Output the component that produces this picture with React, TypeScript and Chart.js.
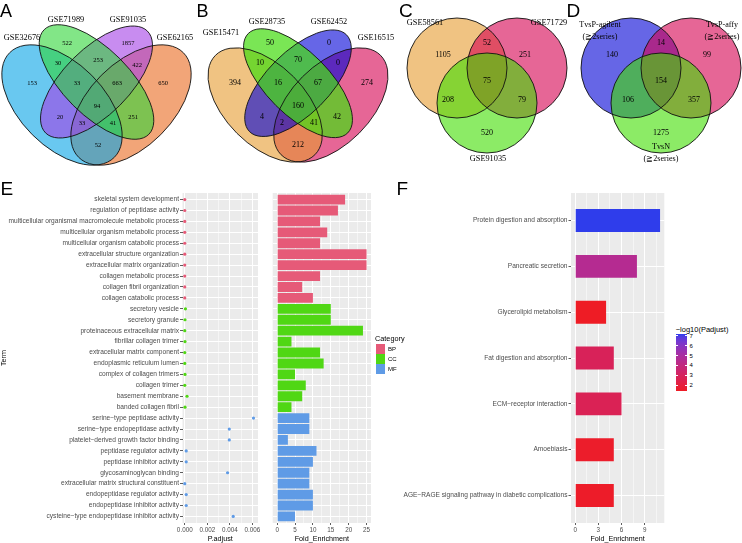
import React, { useEffect, useRef } from 'react';
import { Chart, registerables } from 'chart.js';

Chart.register(...registerables);

const SANS = '"Liberation Sans", Arial, Helvetica, sans-serif';
const SERIF = '"Liberation Serif", "Times New Roman", "DejaVu Serif", serif';

// ---------------- Venn data ----------------
const vennASets = ['GSE32676', 'GSE71989', 'GSE91035', 'GSE62165'];
const vennACounts = [153, 522, 1857, 650, 30, 253, 422, 33, 663, 20, 251, 33, 41, 94, 52];
const vennBSets = ['GSE15471', 'GSE28735', 'GSE62452', 'GSE16515'];
const vennBCounts = [394, 50, 0, 274, 10, 70, 0, 16, 67, 4, 42, 2, 41, 160, 212];
const vennCSets = ['GSE58561', 'GSE71729', 'GSE91035'];
const vennCCounts = [1105, 251, 520, 52, 208, 79, 75];
const vennDSets = ['TvsP-agilent\n(\u22672series)', 'TvsP-affy\n(\u22672series)', 'TvsN\n(\u22672series)'];
const vennDCounts = [140, 99, 1275, 14, 106, 357, 154];

// ---------------- GO enrichment data ----------------
const goTerms = [
  'skeletal system development',
  'regulation of peptidase activity',
  'multicellular organismal macromolecule metabolic process',
  'multicellular organism metabolic process',
  'multicellular organism catabolic process',
  'extracellular structure organization',
  'extracellular matrix organization',
  'collagen metabolic process',
  'collagen fibril organization',
  'collagen catabolic process',
  'secretory vesicle',
  'secretory granule',
  'proteinaceous extracellular matrix',
  'fibrillar collagen trimer',
  'extracellular matrix component',
  'endoplasmic reticulum lumen',
  'complex of collagen trimers',
  'collagen trimer',
  'basement membrane',
  'banded collagen fibril',
  'serine\u2212type peptidase activity',
  'serine\u2212type endopeptidase activity',
  'platelet\u2212derived growth factor binding',
  'peptidase regulator activity',
  'peptidase inhibitor activity',
  'glycosaminoglycan binding',
  'extracellular matrix structural constituent',
  'endopeptidase regulator activity',
  'endopeptidase inhibitor activity',
  'cysteine\u2212type endopeptidase inhibitor activity',
];
const goCategory = [
  'BP', 'BP', 'BP', 'BP', 'BP', 'BP', 'BP', 'BP', 'BP', 'BP',
  'CC', 'CC', 'CC', 'CC', 'CC', 'CC', 'CC', 'CC', 'CC', 'CC',
  'MF', 'MF', 'MF', 'MF', 'MF', 'MF', 'MF', 'MF', 'MF', 'MF',
];
const goPadjust = [
  0, 0, 0, 0, 0, 0, 0, 0, 0, 0,
  0.00006, 0.00002, 0, 0.00002, 0, 0, 0.00002, 0, 0.0002, 0.00002,
  0.0061, 0.00395, 0.00395, 0.00013, 0.00013, 0.0038, 0, 0.00013, 0.00013, 0.0043,
];
const goFold = [
  19, 17, 12, 14, 12, 25, 25, 12, 7, 10,
  15, 15, 24, 4, 12, 13, 5, 8, 7, 4,
  9, 9, 3, 11, 10, 9, 9, 10, 10, 5,
];
const categories = ['BP', 'CC', 'MF'];
const pTicks = [0, 0.001, 0.002, 0.003, 0.004, 0.005, 0.006];
const pTickLabels = ['0.000', '', '0.002', '', '0.004', '', '0.006'];
const foldTicks = [0, 2.5, 5, 7.5, 10, 12.5, 15, 17.5, 20, 22.5, 25];
const foldTickLabels = ['0', '', '5', '', '10', '', '15', '', '20', '', '25'];

// ---------------- KEGG data ----------------
const keggTerms = [
  'Protein digestion and absorption',
  'Pancreatic secretion',
  'Glycerolipid metabolism',
  'Fat digestion and absorption',
  'ECM\u2212receptor interaction',
  'Amoebiasis',
  'AGE\u2212RAGE signaling pathway in diabetic complications',
];
const keggFold = [11, 8, 4, 5, 6, 5, 5];
const keggLogP = [7.2, 4.6, 1.46, 2.9, 2.8, 1.6, 1.55];
const keggTicks = [0, 1.5, 3, 4.5, 6, 7.5, 9, 10.5];
const keggTickLabels = ['0', '', '3', '', '6', '', '9', ''];
const colorbarBreaks = [7, 6, 5, 4, 3, 2];

// ---------------- styles / layout ----------------
const catColors: Record<string, string> = { BP: '#E65A78', CC: '#50D714', MF: '#5F9BE6' };
const gradLow = [238, 28, 37];
const gradHigh = [47, 61, 235];

type Ell = { cx: number; cy: number; rx: number; ry: number; rot: number; fill: string };
type Venn = {
  shapes: Ell[]; order: number[]; counts: number[]; countPos: number[][]; countSize: number;
  sets: string[]; setPos: number[][]; setSize: number;
};

const VENNS: Venn[] = [
  {
    shapes: [
      { cx: 62, cy: 105, rx: 74, ry: 42, rot: 45, fill: 'rgba(5,163,230,0.6)' },
      { cx: 96.5, cy: 82, rx: 74, ry: 33, rot: 45, fill: 'rgba(47,213,55,0.6)' },
      { cx: 96.5, cy: 82, rx: 72, ry: 33, rot: -45, fill: 'rgba(163,63,230,0.6)' },
      { cx: 131, cy: 105, rx: 74, ry: 42, rot: -45, fill: 'rgba(233,105,30,0.6)' },
    ],
    order: [3, 0, 2, 1],
    counts: vennACounts,
    countPos: [[32, 83], [67, 43], [128, 43], [163, 83], [58, 63], [98, 60], [137, 65], [77, 83], [117, 83], [60, 117], [133, 117], [82, 123], [113, 123], [97, 106], [98, 145]],
    countSize: 6.5,
    sets: vennASets,
    setPos: [[22, 38], [66, 20], [128, 20], [175, 38]],
    setSize: 8.3,
  },
  {
    shapes: [
      { cx: 265.2, cy: 105, rx: 70.3, ry: 40, rot: 45, fill: 'rgba(230,155,47,0.6)' },
      { cx: 298, cy: 83.2, rx: 70.3, ry: 31.4, rot: 45, fill: 'rgba(70,220,20,0.72)' },
      { cx: 298, cy: 83.2, rx: 68.5, ry: 31.4, rot: -45, fill: 'rgba(0,0,215,0.6)' },
      { cx: 330.8, cy: 105, rx: 70.3, ry: 40, rot: -45, fill: 'rgba(213,0,80,0.6)' },
    ],
    order: [3, 0, 2, 1],
    counts: vennBCounts,
    countPos: [[235, 83], [270, 43], [329, 43], [367, 83], [260, 63], [298, 60], [338, 63], [278, 83], [318, 83], [262, 117], [337, 117], [282, 123], [314, 123], [298, 106], [298, 145]],
    countSize: 8,
    sets: vennBSets,
    setPos: [[221, 33], [267, 22], [329, 22], [376, 38]],
    setSize: 8.3,
  },
  {
    shapes: [
      { cx: 457, cy: 68, rx: 50, ry: 50, rot: 0, fill: 'rgba(230,155,47,0.6)' },
      { cx: 517, cy: 68, rx: 50, ry: 50, rot: 0, fill: 'rgba(213,0,80,0.6)' },
      { cx: 487, cy: 103, rx: 50, ry: 50, rot: 0, fill: 'rgba(63,222,0,0.6)' },
    ],
    order: [0, 1, 2],
    counts: vennCCounts,
    countPos: [[443, 55], [525, 55], [487, 133], [487, 43], [448, 100], [522, 100], [487, 81]],
    countSize: 8,
    sets: vennCSets,
    setPos: [[425, 23], [549, 23], [488, 159]],
    setSize: 8.3,
  },
  {
    shapes: [
      { cx: 631, cy: 68, rx: 50, ry: 50, rot: 0, fill: 'rgba(0,0,213,0.6)' },
      { cx: 691, cy: 68, rx: 50, ry: 50, rot: 0, fill: 'rgba(213,0,80,0.6)' },
      { cx: 661, cy: 103, rx: 50, ry: 50, rot: 0, fill: 'rgba(63,222,0,0.6)' },
    ],
    order: [0, 1, 2],
    counts: vennDCounts,
    countPos: [[612, 55], [707, 55], [661, 133], [661, 43], [628, 100], [694, 100], [661, 81]],
    countSize: 8,
    sets: vennDSets,
    setPos: [[600, 25], [722, 25], [661, 147]],
    setSize: 8.1,
  },
];

// ---------------- colour helpers (Lab interpolation like ggplot) ----------------
function toLin(c: number) { c /= 255; return c <= 0.04045 ? c / 12.92 : Math.pow((c + 0.055) / 1.055, 2.4); }
function fromLin(c: number) {
  const v = c <= 0.0031308 ? 12.92 * c : 1.055 * Math.pow(c, 1 / 2.4) - 0.055;
  return Math.round(Math.max(0, Math.min(1, v)) * 255);
}
function rgbToLab(rgb: number[]) {
  const [R, G, B] = rgb.map(toLin);
  const X = (0.4124 * R + 0.3576 * G + 0.1805 * B) / 0.95047;
  const Y = 0.2126 * R + 0.7152 * G + 0.0722 * B;
  const Z = (0.0193 * R + 0.1192 * G + 0.9505 * B) / 1.08883;
  const f = (t: number) => (t > 0.008856 ? Math.cbrt(t) : 7.787 * t + 16 / 116);
  const fx = f(X), fy = f(Y), fz = f(Z);
  return [116 * fy - 16, 500 * (fx - fy), 200 * (fy - fz)];
}
function labToRgb(lab: number[]) {
  const [L, a, b] = lab;
  const fy = (L + 16) / 116, fx = fy + a / 500, fz = fy - b / 200;
  const inv = (t: number) => (t * t * t > 0.008856 ? t * t * t : (t - 16 / 116) / 7.787);
  const X = inv(fx) * 0.95047, Y = inv(fy), Z = inv(fz) * 1.08883;
  const R = 3.2406 * X - 1.5372 * Y - 0.4986 * Z;
  const G = -0.9689 * X + 1.8758 * Y + 0.0415 * Z;
  const B = 0.0557 * X - 0.204 * Y + 1.057 * Z;
  return [fromLin(R), fromLin(G), fromLin(B)];
}
const labLow = rgbToLab(gradLow);
const labHigh = rgbToLab(gradHigh);
function gradColor(t: number) {
  const lab = labLow.map((v, i) => v + (labHigh[i] - v) * t);
  const [r, g, b] = labToRgb(lab);
  return `rgb(${r},${g},${b})`;
}
const logMin = Math.min(...keggLogP);
const logMax = Math.max(...keggLogP);

// ---------------- plugins ----------------
const panelBg = {
  id: 'panelBg',
  beforeDraw(chart: any) {
    const { ctx, chartArea: a } = chart;
    ctx.save();
    ctx.fillStyle = '#EBEBEB';
    ctx.fillRect(a.left, a.top, a.right - a.left, a.bottom - a.top);
    ctx.restore();
  },
};

const vennPlugin = {
  id: 'vennPlugin',
  afterDraw(chart: any) {
    const ctx = chart.ctx;
    const xs = chart.scales.x, ys = chart.scales.y;
    const px = (v: number) => xs.getPixelForValue(v);
    const py = (v: number) => ys.getPixelForValue(v);
    const k = px(1) - px(0);
    for (const v of VENNS) {
      ctx.save();
      const path = (s: Ell) => {
        ctx.beginPath();
        ctx.ellipse(px(s.cx), py(s.cy), s.rx * k, s.ry * k, (s.rot * Math.PI) / 180, 0, Math.PI * 2);
      };
      for (const i of v.order) {
        path(v.shapes[i]);
        ctx.fillStyle = v.shapes[i].fill;
        ctx.fill();
      }
      ctx.lineWidth = 0.9;
      ctx.strokeStyle = '#111111';
      for (const s of v.shapes) { path(s); ctx.stroke(); }
      ctx.fillStyle = '#000000';
      ctx.textAlign = 'center';
      ctx.textBaseline = 'middle';
      ctx.font = `${v.countSize}px ${SERIF}`;
      v.counts.forEach((c, i) => ctx.fillText(String(c), px(v.countPos[i][0]), py(v.countPos[i][1])));
      ctx.font = `${v.setSize}px ${SERIF}`;
      v.sets.forEach((name, i) => {
        name.split('\n').forEach((line, j) => {
          ctx.fillText(line, px(v.setPos[i][0]), py(v.setPos[i][1] + j * 12));
        });
      });
      ctx.restore();
    }
  },
};

// ---------------- axis builders ----------------
function valueAxis(min: number, max: number, ticks: number[], labels: string[], title: string) {
  const isMajor = (v: number) => {
    const i = ticks.indexOf(v);
    return i >= 0 && labels[i] !== '';
  };
  return {
    type: 'linear',
    min,
    max,
    offset: false,
    afterBuildTicks: (s: any) => { s.ticks = ticks.map((value) => ({ value })); },
    afterFit: (s: any) => { s.height = 20; },
    ticks: {
      autoSkip: false, maxRotation: 0, minRotation: 0, padding: 1, color: '#4D4D4D',
      font: { family: SANS, size: 6.3 },
      callback: (_v: any, i: number) => labels[i] ?? '',
    },
    grid: {
      offset: false,
      color: '#FFFFFF',
      lineWidth: (c: any) => (c.tick && isMajor(c.tick.value) ? 1 : 0.5),
      drawTicks: true,
      tickLength: 2,
      tickWidth: 0.8,
      tickColor: (c: any) => (c.tick && isMajor(c.tick.value) ? '#333333' : 'rgba(0,0,0,0)'),
    },
    border: { display: false },
    title: { display: true, text: title, color: '#000000', font: { family: SANS, size: 7.2 }, padding: 0 },
  };
}

function indexAxis(labels: string[], width: number, showLabels: boolean, title?: string) {
  return {
    type: 'linear',
    min: 0.4,
    max: labels.length + 0.6,
    reverse: true,
    offset: false,
    afterBuildTicks: (s: any) => { s.ticks = labels.map((_, i) => ({ value: i + 1 })); },
    afterFit: (s: any) => { s.width = width; },
    ticks: {
      display: showLabels, autoSkip: false, padding: 1, color: '#4D4D4D',
      font: { family: SANS, size: 6.6 },
      callback: (_v: any, i: number) => labels[i],
    },
    grid: { offset: false, color: '#FFFFFF', lineWidth: 1, drawTicks: showLabels, tickLength: 2.5, tickWidth: 0.8, tickColor: '#333333' },
    border: { display: false },
    title: { display: !!title, text: title || '', color: '#000000', font: { family: SANS, size: 7.2 }, padding: 0 },
  };
}

const baseOptions = {
  animation: false,
  responsive: false,
  devicePixelRatio: 1,
  events: [],
  plugins: { legend: { display: false }, tooltip: { enabled: false } },
};

// ---------------- chart configs ----------------
function vennConfig(): any {
  return {
    type: 'scatter',
    data: { datasets: [] },
    options: {
      ...baseOptions,
      layout: { padding: 0 },
      scales: {
        x: { type: 'linear', min: 0, max: 742, display: false },
        y: { type: 'linear', min: 0, max: 172, reverse: true, display: false },
      },
    },
    plugins: [vennPlugin],
  };
}

function dotConfig(): any {
  return {
    type: 'scatter',
    data: {
      datasets: categories.map((cat) => ({
        label: cat,
        data: goTerms
          .map((_, i) => ({ x: goPadjust[i], y: i + 1, c: goCategory[i] }))
          .filter((d) => d.c === cat),
        backgroundColor: catColors[cat],
        borderWidth: 0,
        pointRadius: 1.6,
      })),
    },
    options: {
      ...baseOptions,
      layout: { padding: { top: 8, right: 3.7, left: 0, bottom: 0 } },
      scales: {
        x: valueAxis(-0.0002, 0.0065, pTicks, pTickLabels, 'P.adjust'),
        y: indexAxis(goTerms, 182.5, true, 'Term'),
      },
    },
    plugins: [panelBg],
  };
}

function goBarConfig(): any {
  return {
    type: 'bar',
    data: {
      datasets: [{
        data: goFold.map((v, i) => ({ x: v, y: i + 1 })),
        backgroundColor: goCategory.map((c) => catColors[c]),
        borderWidth: 0,
        barPercentage: 0.9,
        categoryPercentage: 1,
      }],
    },
    options: {
      ...baseOptions,
      indexAxis: 'y',
      layout: { padding: { top: 8, right: 4, left: 10.7, bottom: 0 } },
      scales: {
        x: valueAxis(-1.25, 26.25, foldTicks, foldTickLabels, 'Fold_Enrichment'),
        y: indexAxis(goTerms, 0, false),
      },
    },
    plugins: [panelBg],
  };
}

function keggConfig(): any {
  return {
    type: 'bar',
    data: {
      datasets: [{
        data: keggFold.map((v, i) => ({ x: v, y: i + 1 })),
        backgroundColor: keggLogP.map((p) => gradColor((p - logMin) / (logMax - logMin))),
        borderWidth: 0,
        barPercentage: 0.5,
        categoryPercentage: 1,
      }],
    },
    options: {
      ...baseOptions,
      indexAxis: 'y',
      layout: { padding: { top: 8, right: 5.7, left: 0, bottom: 0 } },
      scales: {
        x: valueAxis(-0.55, 11.55, keggTicks, keggTickLabels, 'Fold_Enrichment'),
        y: indexAxis(keggTerms, 186, true),
      },
    },
    plugins: [panelBg],
  };
}

// ---------------- components ----------------
function ChartCanvas(props: { left: number; top: number; width: number; height: number; make: () => any }) {
  const ref = useRef<HTMLCanvasElement>(null);
  useEffect(() => {
    const chart = new Chart(ref.current as HTMLCanvasElement, props.make());
    return () => chart.destroy();
  }, []);
  return (
    <canvas
      ref={ref}
      width={props.width}
      height={props.height}
      style={{ position: 'absolute', left: props.left, top: props.top, width: props.width, height: props.height }}
    />
  );
}

function Txt(props: { x: number; cy: number; size: number; text: string; color?: string }) {
  return (
    <span
      style={{
        position: 'absolute', left: props.x, top: props.cy - props.size * 0.5,
        fontSize: props.size, lineHeight: `${props.size}px`, fontFamily: SANS,
        color: props.color || '#000', whiteSpace: 'nowrap',
      }}
    >
      {props.text}
    </span>
  );
}

const panelLetters = [
  { t: 'A', x: 0, base: 17, size: 18 },
  { t: 'B', x: 196.5, base: 17, size: 18 },
  { t: 'C', x: 399, base: 17, size: 19 },
  { t: 'D', x: 566.5, base: 17, size: 19 },
  { t: 'E', x: 0.5, base: 195, size: 19 },
  { t: 'F', x: 396.5, base: 195, size: 19 },
];

export default function App() {
  useEffect(() => {
    document.body.style.margin = '0';
  }, []);
  const barTop = 333.7, barH = 57, barLeft = 675.7, barW = 11.6;
  const stops = Array.from({ length: 21 }, (_, k) => `${gradColor(k / 20)} ${(k / 20) * 100}%`).join(', ');
  return (
    <div style={{ position: 'relative', width: 742, height: 543, background: '#FFFFFF', overflow: 'hidden' }}>
      <ChartCanvas left={0} top={0} width={742} height={172} make={vennConfig} />
      <ChartCanvas left={0} top={185} width={262} height={358} make={dotConfig} />
      <ChartCanvas left={262} top={185} width={113} height={358} make={goBarConfig} />
      <ChartCanvas left={385} top={185} width={285} height={358} make={keggConfig} />

      {panelLetters.map((p) => (
        <span
          key={p.t}
          style={{
            position: 'absolute', left: p.x, top: p.base - 0.8465 * p.size,
            fontSize: p.size, lineHeight: `${p.size}px`, fontFamily: SANS, color: '#000',
          }}
        >
          {p.t}
        </span>
      ))}

      {/* Category legend */}
      <Txt x={375} cy={339} size={7.3} text="Category" />
      {categories.map((c, i) => (
        <React.Fragment key={c}>
          <div
            style={{
              position: 'absolute', left: 375.5, top: 344 + i * 10.2, width: 9.6, height: 9.6,
              background: catColors[c],
            }}
          />
          <Txt x={388} cy={348.8 + i * 10.2} size={6} text={c} />
        </React.Fragment>
      ))}

      {/* -log10(Padjust) colour bar */}
      <Txt x={675.7} cy={329.3} size={7.5} text={'\u2212log10(Padjust)'} />
      <div
        style={{
          position: 'absolute', left: barLeft, top: barTop, width: barW, height: barH,
          background: `linear-gradient(to top, ${stops})`,
        }}
      />
      {colorbarBreaks.map((b) => {
        const y = barTop + ((logMax - b) / (logMax - logMin)) * barH;
        return (
          <React.Fragment key={b}>
            <div style={{ position: 'absolute', left: barLeft, top: y - 0.4, width: 2.3, height: 0.8, background: '#FFFFFF' }} />
            <div style={{ position: 'absolute', left: barLeft + barW - 2.3, top: y - 0.4, width: 2.3, height: 0.8, background: '#FFFFFF' }} />
            <Txt x={689.5} cy={y} size={6} text={String(b)} />
          </React.Fragment>
        );
      })}
    </div>
  );
}
